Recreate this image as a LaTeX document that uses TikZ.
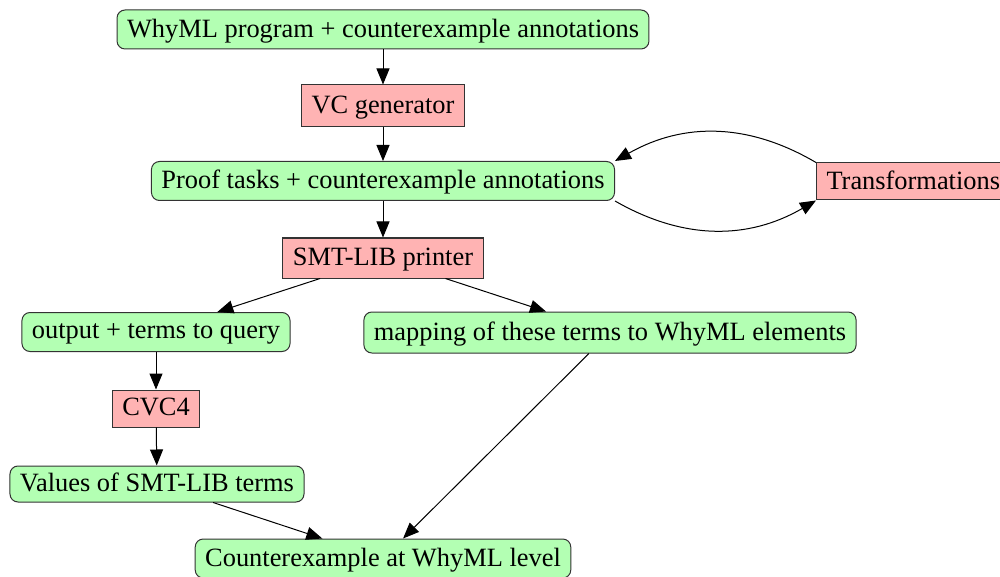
\documentclass[tikz,border=0pt]{standalone}
\usepackage{fontspec}
\setmainfont{Liberation Serif}
\usetikzlibrary{arrows.meta}
\definecolor{stepgreen}{RGB}{179,255,179}
\definecolor{toolred}{RGB}{255,179,179}
\begin{document}
\begin{tikzpicture}[x=0.5pt, y=-0.5pt,
	box/.style={draw=black!80, line width=0.5pt, inner xsep=5pt, inner ysep=2pt, minimum height=19.5pt, text depth=0.3ex, font=\fontsize{13.2pt}{16pt}\selectfont},
	data/.style={box, fill=stepgreen, rounded corners=4pt},
	tool/.style={box, fill=toolred},
	flow/.style={line width=0.5pt, -{Triangle[length=8pt, width=6.5pt]}}]
	\useasboundingbox (0, 0) rectangle (1000, 577);
	% middle column
	\node[data] (whyml) at (383, 29.5) {WhyML program + counterexample annotations};
	\node[tool, minimum height=21pt] (vcgen) at (383, 106) {VC generator};
	\node[data] (proof) at (383, 181) {Proof tasks + counterexample annotations};
	\node[tool, minimum height=18.5pt, anchor=west] (trans) at (816, 181.5) {Transformations};
	\node[tool, minimum height=20pt] (smt) at (383, 258) {SMT-LIB printer};
	% left branch
	\node[data] (query) at (156, 332) {output + terms to query};
	\node[tool, minimum height=18.5pt] (cvc) at (156, 408.5) {CVC4};
	\node[data, minimum height=18pt] (values) at (157, 484) {Values of SMT-LIB terms};
	% right branch
	\node[data, minimum height=20.5pt] (mapping) at (610, 332.5) {mapping of these terms to WhyML elements};
	\node[data] (cex) at (383, 558.5) {Counterexample at WhyML level};
	\draw[flow] (whyml) -- (vcgen);
	\draw[flow] (vcgen) -- (proof);
	\draw[flow] (proof) -- (smt);
	\draw[flow] (trans.north west) to[bend right=30] (proof.north east);
	\draw[flow] (proof.south east) to[bend right=30] (trans.south west);
	\draw[flow] (smt) -- (query);
	\draw[flow] (smt) -- (mapping);
	\draw[flow] (query) -- (cvc);
	\draw[flow] (cvc) -- (values);
	\draw[flow] (values) -- (cex);
	\draw[flow] (mapping) -- (cex);
\end{tikzpicture}
\end{document}
